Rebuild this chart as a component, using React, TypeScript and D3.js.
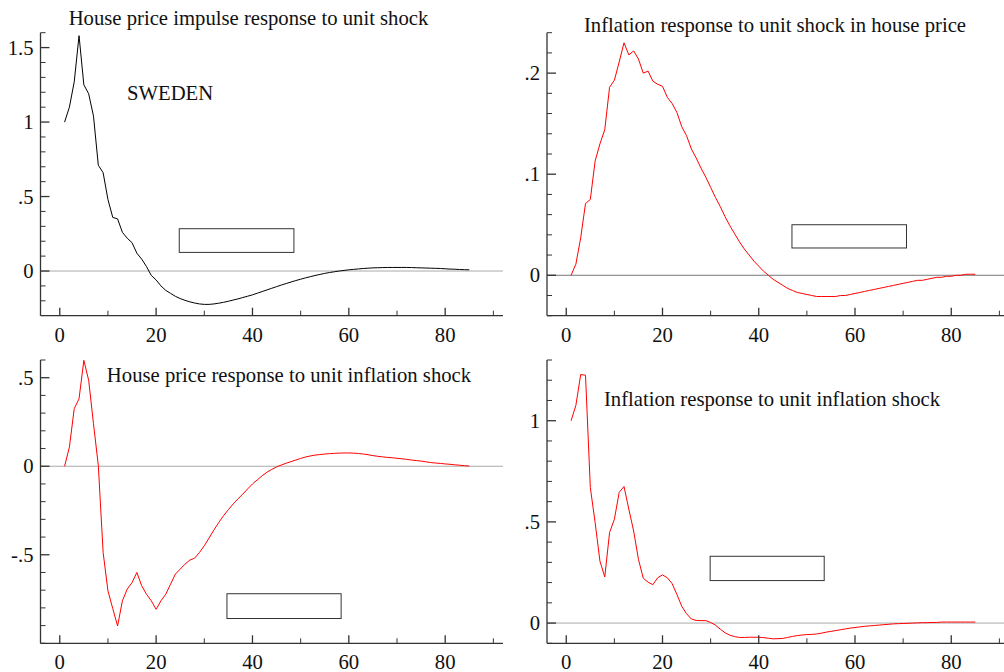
import React from 'react';
import * as d3 from 'd3';

// horizon 1..85
const periods = d3.range(1, 86);

const housePriceOwn = [
  1.0, 1.1, 1.27, 1.58, 1.25, 1.19, 1.04, 0.71, 0.66, 0.48,
  0.36, 0.35, 0.26, 0.22, 0.19, 0.12, 0.08, 0.03, -0.03, -0.06,
  -0.1, -0.13, -0.15, -0.17, -0.185, -0.197, -0.207, -0.215, -0.221, -0.224,
  -0.224, -0.221, -0.216, -0.21, -0.203, -0.195, -0.187, -0.178, -0.169, -0.16,
  -0.149, -0.138, -0.127, -0.116, -0.105, -0.094, -0.084, -0.074, -0.064, -0.055,
  -0.046, -0.038, -0.03, -0.023, -0.016, -0.01, -0.005, 0.0, 0.004, 0.008,
  0.011, 0.014, 0.017, 0.019, 0.021, 0.022, 0.023, 0.024, 0.024, 0.024,
  0.024, 0.024, 0.023, 0.022, 0.021, 0.02, 0.019, 0.018, 0.017, 0.015,
  0.013, 0.012, 0.01, 0.009, 0.008,
];

const inflationToHouse = [
  0.0, 0.011, 0.037, 0.071, 0.075, 0.113, 0.13, 0.144, 0.186, 0.193,
  0.211, 0.23, 0.218, 0.222, 0.214, 0.2, 0.202, 0.192, 0.189, 0.187,
  0.176, 0.17, 0.161, 0.147, 0.138, 0.125, 0.116, 0.106, 0.097, 0.087,
  0.077, 0.068, 0.058, 0.049, 0.041, 0.033, 0.026, 0.02, 0.014, 0.009,
  0.004, 0.0, -0.004, -0.007, -0.01, -0.013, -0.015, -0.017, -0.018, -0.019,
  -0.02, -0.021, -0.021, -0.021, -0.021, -0.021, -0.02, -0.02, -0.019, -0.018,
  -0.017, -0.016, -0.015, -0.014, -0.013, -0.012, -0.011, -0.01, -0.009, -0.008,
  -0.007, -0.006, -0.005, -0.005, -0.004, -0.003, -0.002, -0.002, -0.001, -0.001,
  0.0, 0.0, 0.001, 0.001, 0.001,
];

const houseToInflation = [
  0.0, 0.108, 0.325, 0.381, 0.598, 0.485, 0.24, 0.004, -0.487, -0.704,
  -0.804, -0.902, -0.76, -0.694, -0.657, -0.6, -0.675, -0.723, -0.76, -0.808,
  -0.76, -0.723, -0.666, -0.609, -0.581, -0.553, -0.53, -0.519, -0.487, -0.449,
  -0.405, -0.36, -0.318, -0.279, -0.245, -0.213, -0.184, -0.157, -0.128, -0.1,
  -0.077, -0.054, -0.034, -0.018, -0.004, 0.007, 0.017, 0.026, 0.035, 0.044,
  0.052, 0.058, 0.063, 0.066, 0.069, 0.071, 0.073, 0.074, 0.075, 0.075,
  0.074, 0.072, 0.069, 0.065, 0.06, 0.056, 0.053, 0.05, 0.048, 0.045,
  0.042, 0.039, 0.035, 0.032, 0.029, 0.025, 0.021, 0.018, 0.016, 0.013,
  0.011, 0.008, 0.006, 0.003, 0.001,
];

const inflationOwn = [
  1.0, 1.076, 1.228, 1.225, 0.67, 0.497, 0.306, 0.228, 0.447, 0.513,
  0.646, 0.675, 0.563, 0.455, 0.315, 0.222, 0.202, 0.19, 0.224, 0.238,
  0.224, 0.195, 0.141, 0.083, 0.046, 0.02, 0.013, 0.012, 0.012, 0.003,
  -0.01, -0.03, -0.048, -0.06, -0.067, -0.071, -0.071, -0.07, -0.07, -0.07,
  -0.072, -0.075, -0.078, -0.077, -0.076, -0.071, -0.066, -0.062, -0.059, -0.057,
  -0.056, -0.054, -0.05, -0.045, -0.041, -0.037, -0.033, -0.029, -0.025, -0.022,
  -0.019, -0.016, -0.014, -0.012, -0.01, -0.008, -0.006, -0.004, -0.003, -0.002,
  -0.001, 0.0, 0.001, 0.002, 0.002, 0.003, 0.003, 0.005, 0.005, 0.005,
  0.005, 0.005, 0.005, 0.005, 0.005,
];

const xMajorTicks = [0, 20, 40, 60, 80];
const xMinorTicks = [10, 30, 50, 70, 90];

const titles = [
  'House price impulse response to unit shock',
  'Inflation response to unit shock in house price',
  'House price response to unit inflation shock',
  'Inflation response to unit inflation shock',
];

const FONT = '"Liberation Serif", "Times New Roman", serif';
const FS = 20.7;
const AXIS = '#333';

const fmt = (v: number) => {
  if (v === 0) return '0';
  const s = String(+v.toFixed(2));
  return s.replace(/^0\./, '.').replace(/^-0\./, '-.');
};

type PanelProps = {
  values: number[];
  color: string;
  xRange: [number, number];
  yRange: [number, number];
  yDomain: [number, number];
  yMajor: number[];
  yMinorStep: number;
  zeroColor: string;
  title: string;
  titlePos: [number, number];
  box: [number, number, number, number]; // in data units: x0, x1, y0, y1
};

function Panel(p: PanelProps) {
  const x = d3.scaleLinear().domain([-4, 92]).range(p.xRange);
  const y = d3.scaleLinear().domain(p.yDomain).range(p.yRange);
  const left = p.xRange[0];
  const bottom = p.yRange[0];
  const top = p.yRange[1];
  const right = p.xRange[1];

  const minor = d3
    .range(Math.ceil(p.yDomain[0] / p.yMinorStep), Math.floor(p.yDomain[1] / p.yMinorStep + 1e-6) + 1)
    .map((k) => +(k * p.yMinorStep).toFixed(4))
    .filter((v) => !p.yMajor.some((m) => Math.abs(m - v) < 1e-6));

  const line = d3
    .line<number>()
    .x((_, i) => x(periods[i]))
    .y((d) => y(d));

  return (
    <g>
      <line x1={left} x2={right} y1={y(0)} y2={y(0)} stroke={p.zeroColor} strokeWidth={1} />
      <path d={line(p.values) || ''} fill="none" stroke={p.color} strokeWidth={1} />
      <rect
        x={x(p.box[0])}
        y={y(p.box[3])}
        width={x(p.box[1]) - x(p.box[0])}
        height={y(p.box[2]) - y(p.box[3])}
        fill="none"
        stroke="#333"
        strokeWidth={1}
      />
      {/* axes */}
      <line x1={left} x2={left} y1={top} y2={bottom} stroke={AXIS} strokeWidth={1.3} />
      <line x1={left} x2={right} y1={bottom} y2={bottom} stroke={AXIS} strokeWidth={1.3} />
      {p.yMajor.map((v) => (
        <g key={'ym' + v}>
          <line x1={left} x2={left + 9} y1={y(v)} y2={y(v)} stroke={AXIS} strokeWidth={1.3} />
          <text x={left - 7} y={y(v) + 7} textAnchor="end" fontSize={FS} fontFamily={FONT} fill="#111">
            {fmt(v)}
          </text>
        </g>
      ))}
      {minor.map((v) => (
        <line key={'yn' + v} x1={left} x2={left + 5} y1={y(v)} y2={y(v)} stroke={AXIS} strokeWidth={1} />
      ))}
      {xMajorTicks.map((v) => (
        <g key={'xm' + v}>
          <line x1={x(v)} x2={x(v)} y1={bottom} y2={bottom - 8} stroke={AXIS} strokeWidth={1.3} />
          <text x={x(v)} y={bottom + 26} textAnchor="middle" fontSize={FS} fontFamily={FONT} fill="#111">
            {v}
          </text>
        </g>
      ))}
      {xMinorTicks.map((v) => (
        <line key={'xn' + v} x1={x(v)} x2={x(v)} y1={bottom} y2={bottom - 5} stroke={AXIS} strokeWidth={1} />
      ))}
      <text x={p.titlePos[0]} y={p.titlePos[1]} textAnchor="middle" fontSize={FS} fontFamily={FONT} fill="#111">
        {p.title}
      </text>
    </g>
  );
}

export default function App() {
  return (
    <svg
      width={1004}
      height={672}
      style={{ position: 'absolute', left: 0, top: 0, background: '#fff' }}
    >
      <Panel
        values={housePriceOwn}
        color="#000"
        xRange={[40.5, 503]}
        yRange={[315.7, 32.7]}
        yDomain={[-0.3, 1.6]}
        yMajor={[0, 0.5, 1, 1.5]}
        yMinorStep={0.1}
        zeroColor="#aaa"
        title={titles[0]}
        titlePos={[248.5, 25]}
        box={[24.8, 48.6, 0.125, 0.284]}
      />
      <text x={127} y={100} fontSize={FS} fontFamily={FONT} fill="#111">
        SWEDEN
      </text>
      <Panel
        values={inflationToHouse}
        color="#f00"
        xRange={[547, 1009]}
        yRange={[315.7, 32.7]}
        yDomain={[-0.04, 0.24]}
        yMajor={[0, 0.1, 0.2]}
        yMinorStep={0.02}
        zeroColor="#777"
        title={titles[1]}
        titlePos={[775, 32]}
        box={[46.9, 70.7, 0.027, 0.05]}
      />
      <Panel
        values={houseToInflation}
        color="#f00"
        xRange={[40.5, 503]}
        yRange={[643.3, 360]}
        yDomain={[-1, 0.6]}
        yMajor={[-0.5, 0, 0.5]}
        yMinorStep={0.1}
        zeroColor="#aaa"
        title={titles[2]}
        titlePos={[289, 381.5]}
        box={[34.7, 58.4, -0.86, -0.72]}
      />
      <Panel
        values={inflationOwn}
        color="#f00"
        xRange={[547, 1009]}
        yRange={[643.3, 360]}
        yDomain={[-0.1, 1.3]}
        yMajor={[0, 0.5, 1]}
        yMinorStep={0.1}
        zeroColor="#aaa"
        title={titles[3]}
        titlePos={[772, 406]}
        box={[29.9, 53.6, 0.21, 0.33]}
      />
    </svg>
  );
}
